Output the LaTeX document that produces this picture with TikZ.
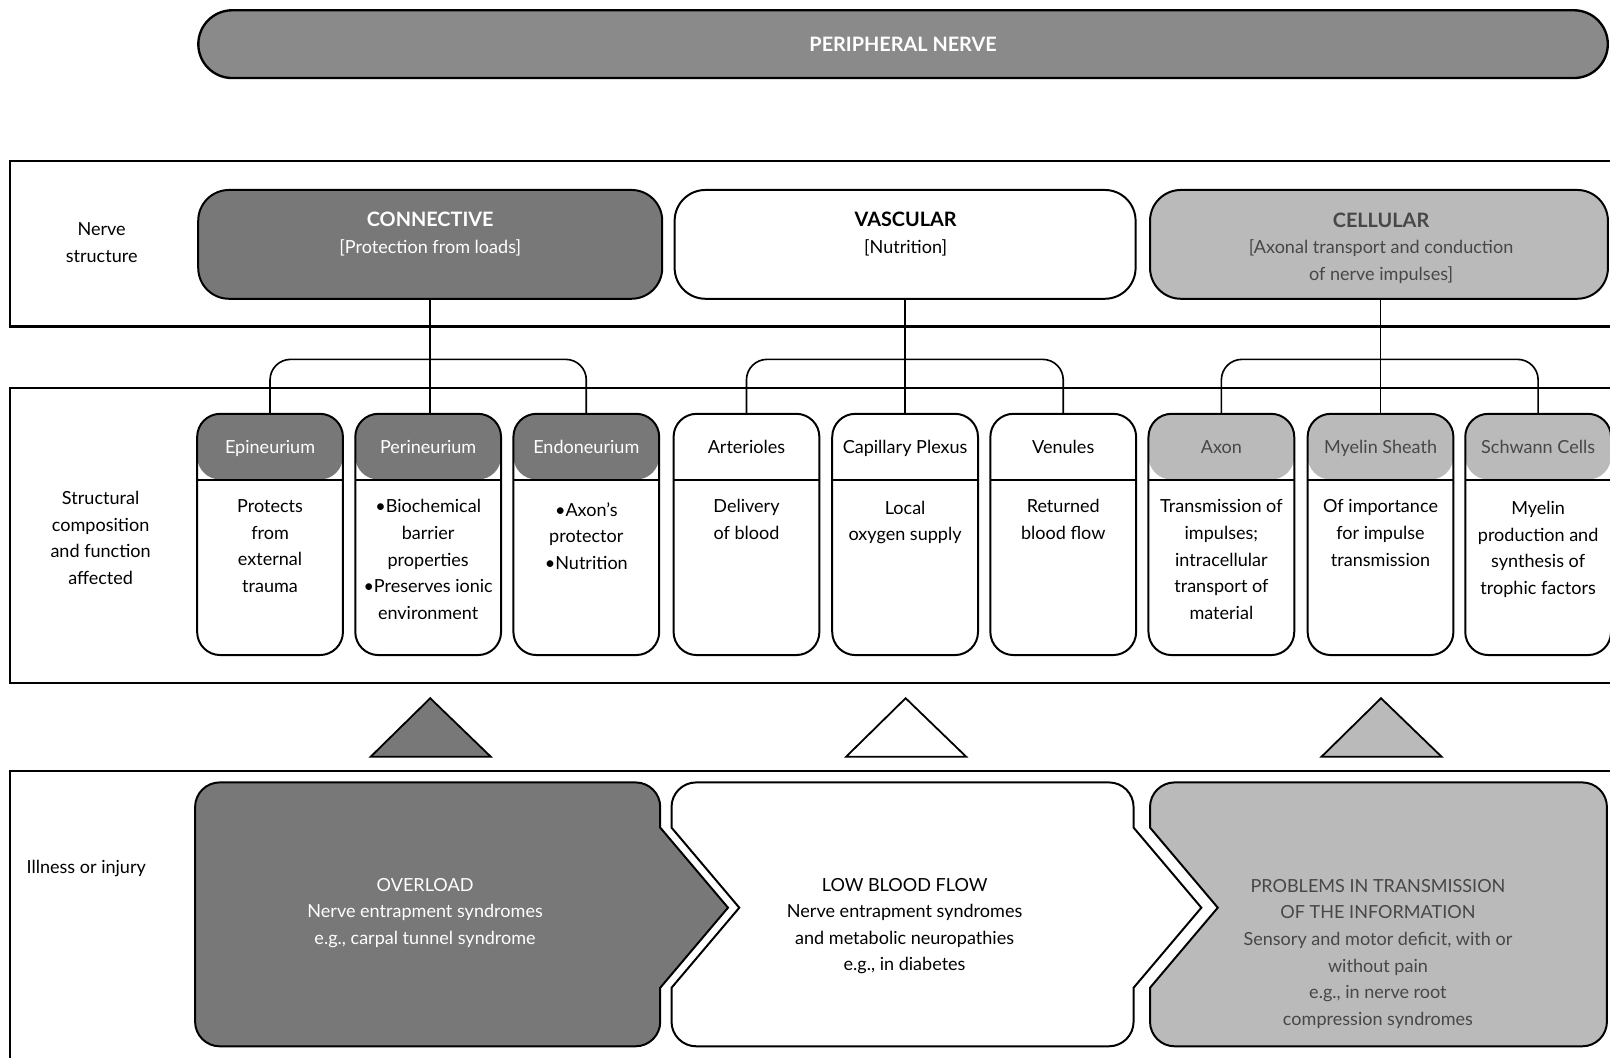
\documentclass[tikz,border=0pt]{standalone}
\usepackage{fontspec}
\setmainfont{Lato}
\definecolor{dk}{gray}{0.47}
\definecolor{lt}{gray}{0.73}
\definecolor{pillc}{gray}{0.54}
\definecolor{txtdk}{gray}{0.28}
\begin{document}
\begin{tikzpicture}[x=0.02cm,y=-0.02cm,
  every node/.style={font=\fontsize{10}{14.74}\selectfont, align=center, inner sep=0pt},
  sect/.style={line width=1.3pt},
  big/.style={draw, line width=1.1pt, rounded corners=0.6cm, minimum height=2.12cm},
  child/.style={draw, line width=1.1pt, rounded corners=0.45cm, minimum width=2.84cm, minimum height=4.7cm, fill=white},
  hdrfill/.style={path picture={\fill[#1] (path picture bounding box.north west) rectangle ([yshift=-1.28cm]path picture bounding box.north east);
      \draw[line width=1.1pt] ([yshift=-1.28cm]path picture bounding box.north west) -- ([yshift=-1.28cm]path picture bounding box.north east);}},
  link/.style={line width=0.9pt, rounded corners=0.4cm},
  tri/.style={draw, line width=1pt, line join=miter},
  chev/.style={draw, line width=1.1pt, line join=miter},
  ttl/.style={font=\fontsize{11}{15}\selectfont\bfseries},
  hdr/.style={font=\fontsize{10}{14.74}\selectfont, text height=7.2pt, text depth=2pt},
]
\useasboundingbox (0,0) rectangle (1568,1030);

% ---------- top pill ----------
\node[draw, fill=pillc, line width=1.3pt, rounded corners=0.66cm, minimum width=27.46cm, minimum height=1.32cm, ttl, text=white] (pn) at (879.5,43) {PERIPHERAL NERVE};

% ---------- section frames ----------
\draw[sect] (1568,157) -- (10,157) -- (10,318) -- (1568,318);
\draw[sect] (1568,378) -- (10,378) -- (10,665) -- (1568,665);
\draw[sect] (1568,751) -- (10,751) -- (10,1030);

% ---------- row labels ----------
\node (l1) at (99,236) {Nerve\\structure};
\node (l2) at (98,524) {Structural\\composition\\and function\\affected};
\node (l3) at (84,846) {Illness or injury};

% ---------- main categories ----------
\node[big, fill=dk, minimum width=9.04cm] (connective) at (419,238) {};
\node[big, fill=white, minimum width=8.98cm] (vascular) at (881.5,238) {};
\node[big, fill=lt, minimum width=8.92cm] (cellular) at (1343,238) {};
\node[text=white] (connT) at (419,228) {{\fontsize{11}{14.74}\selectfont\bfseries CONNECTIVE}\\ {[Protection from loads]}};
\node (vascT) at (882,228) {{\fontsize{11}{14.74}\selectfont\bfseries VASCULAR}\\ {[Nutrition]}};
\node[text=txtdk] (cellT) at (1345,241.5) {{\fontsize{11}{14.74}\selectfont\bfseries CELLULAR}\\ {[Axonal transport and conduction}\\ {of nerve impulses]}};

% ---------- children ----------
\node[child, hdrfill=dk] (epi)  at (263,520.5) {};
\node[child, hdrfill=dk] (peri) at (417,520.5) {};
\node[child, hdrfill=dk] (endo) at (571,520.5) {};
\node[child, hdrfill=white] (art) at (727,520.5) {};
\node[child, hdrfill=white] (cap) at (881.5,520.5) {};
\node[child, hdrfill=white] (ven) at (1035.5,520.5) {};
\node[child, hdrfill=lt] (axon) at (1189.5,520.5) {};
\node[child, hdrfill=lt] (mye)  at (1344.5,520.5) {};
\node[child, hdrfill=lt] (sch)  at (1498,520.5) {};

\node[hdr, text=white] (epiH)  at (263,437) {Epineurium};
\node[hdr, text=white] (periH) at (417,437) {Perineurium};
\node[hdr, text=white] (endoH) at (571,437) {Endoneurium};
\node[hdr] (artH) at (727,437) {Arterioles};
\node[hdr] (capH) at (881.5,437) {Capillary Plexus};
\node[hdr] (venH) at (1035.5,437) {Venules};
\node[hdr, text=txtdk] (axonH) at (1189.5,437) {Axon};
\node[hdr, text=txtdk] (myeH)  at (1344.5,437) {Myelin Sheath};
\node[hdr, text=txtdk] (schH)  at (1498,437) {Schwann Cells};

\node (epiB)  at (263,532) {Protects\\from\\external\\trauma};
\node (periB) at (417,545) {•Biochemical\\barrier\\properties\\•Preserves ionic\\environment};
\node (endoB) at (571,522) {•Axon’s\\protector\\•Nutrition};
\node (artB)  at (727,506) {Delivery\\of blood};
\node (capB)  at (881.5,509) {Local\\oxygen supply};
\node (venB)  at (1035.5,506) {Returned\\blood flow};
\node (axonB) at (1189.5,545) {Transmission of\\impulses;\\intracellular\\transport of\\material};
\node (myeB)  at (1344.5,519) {Of importance\\for impulse\\transmission};
\node (schB)  at (1498,535) {Myelin\\production and\\synthesis of\\trophic factors};

% ---------- connectors ----------
\coordinate (b1) at (417,350);
\coordinate (b2) at (881.5,350);
\coordinate (b3) at (1344.5,350);
\draw[link] (connective.south) -- (connective.south |- peri.north);
\draw[link] (vascular.south) -- (vascular.south |- cap.north);
\draw[link] (cellular.south -| mye.north) -- (mye.north);
\draw[link] (epi.north) |- (b1) -| (endo.north);
\draw[link] (art.north) |- (b2) -| (ven.north);
\draw[link] (axon.north) |- (b3) -| (sch.north);

% ---------- triangles ----------
\draw[tri, fill=dk] (361,737) -- (419,680) -- (478,737) -- cycle;
\draw[tri, fill=white] (824,737) -- (882,680) -- (941,737) -- cycle;
\draw[tri, fill=lt] (1287,737) -- (1345,680) -- (1404,737) -- cycle;

% ---------- illness shapes ----------
\draw[chev, fill=dk] (190,786) arc[start angle=180,end angle=270,radius=24] -- (619,762) arc[start angle=-90,end angle=0,radius=24] -- (643,806) -- (709,884) -- (643,962) -- (643,995) arc[start angle=0,end angle=90,radius=24] -- (214,1019) arc[start angle=90,end angle=180,radius=24] -- cycle;
\draw[chev, fill=white] (654,786) arc[start angle=180,end angle=270,radius=24] -- (1080,762) arc[start angle=-90,end angle=0,radius=24] -- (1104,806) -- (1170,884) -- (1104,962) -- (1104,995) arc[start angle=0,end angle=90,radius=24] -- (678,1019) arc[start angle=90,end angle=180,radius=24] -- (654,962) -- (720,884) -- (654,806) -- cycle;
\draw[chev, fill=lt] (1120,786) arc[start angle=180,end angle=270,radius=24] -- (1541,762) arc[start angle=-90,end angle=0,radius=24] -- (1565,995) arc[start angle=0,end angle=90,radius=24] -- (1144,1019) arc[start angle=90,end angle=180,radius=24] -- (1120,962) -- (1186,884) -- (1120,806) -- cycle;

\node[text=white] (ovT) at (414,889) {OVERLOAD\\Nerve entrapment syndromes\\e.g., carpal tunnel syndrome};
\node (lbT) at (881,902) {LOW BLOOD FLOW\\Nerve entrapment syndromes\\and metabolic neuropathies\\e.g., in diabetes};
\node[text=txtdk] (prT) at (1342,929) {PROBLEMS IN TRANSMISSION\\OF THE INFORMATION\\Sensory and motor deficit, with or\\without pain\\e.g., in nerve root\\compression syndromes};
\end{tikzpicture}
\end{document}
